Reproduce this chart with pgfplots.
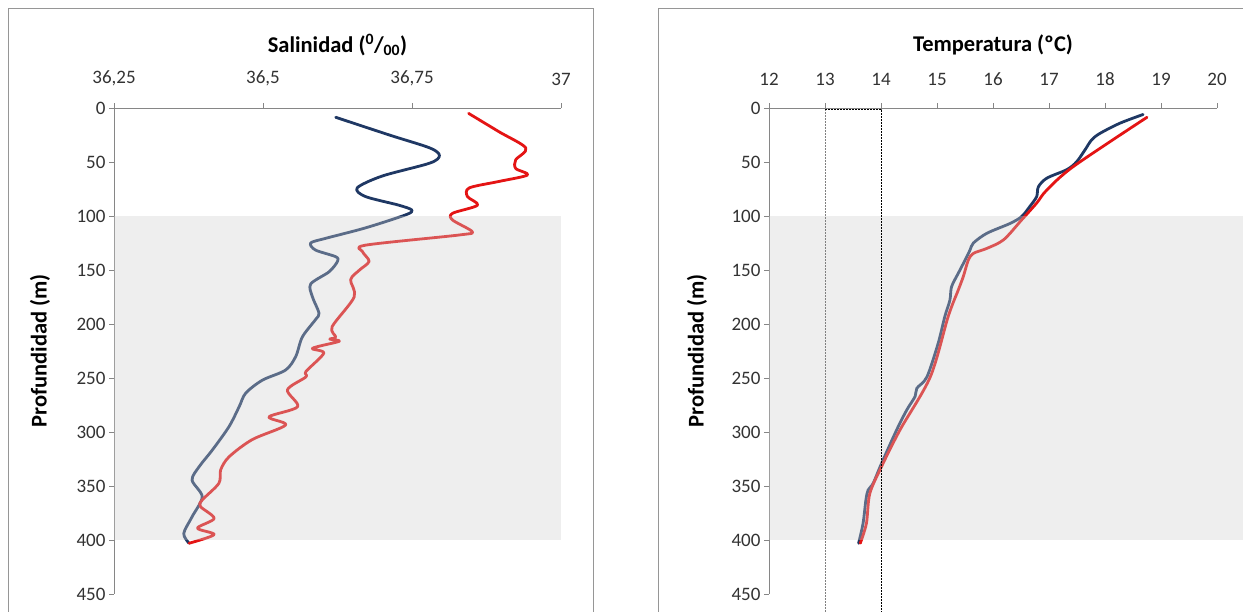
\documentclass[border=0pt]{standalone}
\usepackage{pgfplots}
\pgfplotsset{compat=1.18}
\usepackage{fontspec}
\setmainfont{Carlito}
\definecolor{navy}{RGB}{31,56,100}
\definecolor{redl}{RGB}{228,20,20}
\definecolor{shadec}{RGB}{205,205,205}
\definecolor{axiscol}{RGB}{134,134,134}
\definecolor{framecol}{RGB}{150,150,150}
\definecolor{ticklab}{RGB}{50,50,50}
\pgfplotsset{
 myaxis/.style={
  scale only axis, anchor=south west, height=486pt,
  ymin=0, ymax=450, y dir=reverse,
  axis x line=top, axis y line=left,
  axis line style={-, draw=axiscol, line width=0.8pt},
  tick align=outside, major tick length=5pt,
  tick style={draw=axiscol, line width=0.8pt},
  ytick={0,50,...,450},
  tick label style={font=\fontsize{19}{21}\selectfont, text=ticklab},
  xticklabel style={yshift=14pt},
  /pgf/number format/assume math mode=true,
  label style={font=\bfseries\fontsize{22.5}{24}\selectfont},
  clip=false,
 },
 prof/.style={line width=2.8pt, smooth, tension=0.5, line join=round, line cap=round},
}
\begin{document}
\begin{tikzpicture}[x=1pt,y=1pt]
\useasboundingbox (0,0) rectangle (1243,612);
\draw[framecol, line width=0.8pt] (8,-20) -- (8,604) -- (593,604) -- (593,-20);
\draw[framecol, line width=0.8pt] (658,-20) -- (658,604) -- (1270,604);

\begin{axis}[myaxis, at={(114pt,18pt)}, width=447pt,
  xmin=36.25, xmax=37,
  xtick={36.25,36.5,36.75,37}, xticklabels={{36,25},{36,5},{36,75},{37}},
  xlabel={Salinidad (\textsuperscript{0}/\textsubscript{00})},
  ylabel={Profundidad (m)},
  xlabel style={at={(axis description cs:0.5,1.13)}, anchor=center},
  ylabel style={at={(axis description cs:-0.1655,0.5)}, anchor=center},
]
\addplot[prof, navy] coordinates {
(36.622,8.6) (36.712,25) (36.780,37) (36.796,44) (36.780,51) (36.700,63) (36.658,74) (36.672,82) (36.728,90) (36.750,94.6) (36.739,99) (36.672,111) (36.605,120.7) (36.580,125) (36.588,131.5) (36.622,137.7) (36.625,142) (36.611,151.6) (36.580,163) (36.583,175) (36.594,190) (36.588,196) (36.566,212) (36.555,230) (36.538,242.6) (36.499,252) (36.471,264) (36.460,276.6) (36.443,295) (36.415,316.7) (36.393,332) (36.381,344.5) (36.398,360) (36.381,378.5) (36.367,394) (36.376,403)};
\addplot[prof, redl] coordinates {
(36.845,5) (36.896,22) (36.941,37) (36.924,48) (36.924,56) (36.944,62) (36.896,68) (36.846,74) (36.843,82) (36.860,90) (36.818,97.5) (36.818,103.7) (36.851,114.5) (36.829,117.6) (36.672,127) (36.667,133) (36.678,142) (36.662,150) (36.647,159) (36.653,175) (36.616,202.5) (36.622,212) (36.612,214) (36.628,216) (36.583,222.5) (36.602,227) (36.572,244) (36.572,249) (36.541,261) (36.558,276.6) (36.510,286) (36.538,293.5) (36.482,307) (36.443,323) (36.429,335) (36.426,347.5) (36.398,363) (36.395,369) (36.418,380) (36.390,389) (36.418,395) (36.376,403)};
\addplot[draw=none, fill=shadec, fill opacity=0.35] coordinates {(36.25,100) (37,100) (37,400) (36.25,400)} -- cycle;
\end{axis}

\begin{axis}[myaxis, at={(769pt,18pt)}, width=448pt,
  xmin=12, xmax=20, xtick={12,13,...,20},
  xlabel={Temperatura (ºC)},
  ylabel={Profundidad (m)},
  xlabel style={at={(axis description cs:0.5,1.13)}, anchor=center},
  ylabel style={at={(axis description cs:-0.1607,0.5)}, anchor=center},
]
\addplot[prof, navy] coordinates {
(18.68,6) (18.27,14) (17.91,23.5) (17.76,29.6) (17.64,39) (17.49,50) (17.32,57) (16.96,65) (16.81,73) (16.78,82) (16.66,91) (16.51,100.6) (16.30,107) (15.89,116) (15.65,125) (15.59,131.5) (15.47,144) (15.38,153) (15.26,165.5) (15.23,178) (15.14,193) (15.02,218) (14.82,249) (14.64,259.5) (14.61,267) (14.46,279.6) (14.28,298) (14.01,329) (13.86,347.5) (13.77,353.7) (13.73,363) (13.68,384.5) (13.60,403)};
\addplot[prof, redl] coordinates {
(18.75,8.6) (17.44,54) (16.96,76) (16.78,88) (16.51,103.7) (16.19,122) (15.89,130) (15.65,134.6) (15.56,140.7) (15.47,156) (15.38,168.5) (15.20,193) (14.88,249) (14.34,298) (14.01,332) (13.80,357) (13.74,384.5) (13.63,403)};
\addplot[draw=none, fill=shadec, fill opacity=0.35] coordinates {(12,100) (20.5,100) (20.5,400) (12,400)} -- cycle;
\addplot[gray, line width=1pt, dash pattern=on 2pt off 1pt] coordinates {(13,475) (13,1)};
\addplot[black, line width=0.7pt, dash pattern=on 2pt off 1pt] coordinates {(13,1) (14,1) (14,475)};
\end{axis}
\end{tikzpicture}
\end{document}
